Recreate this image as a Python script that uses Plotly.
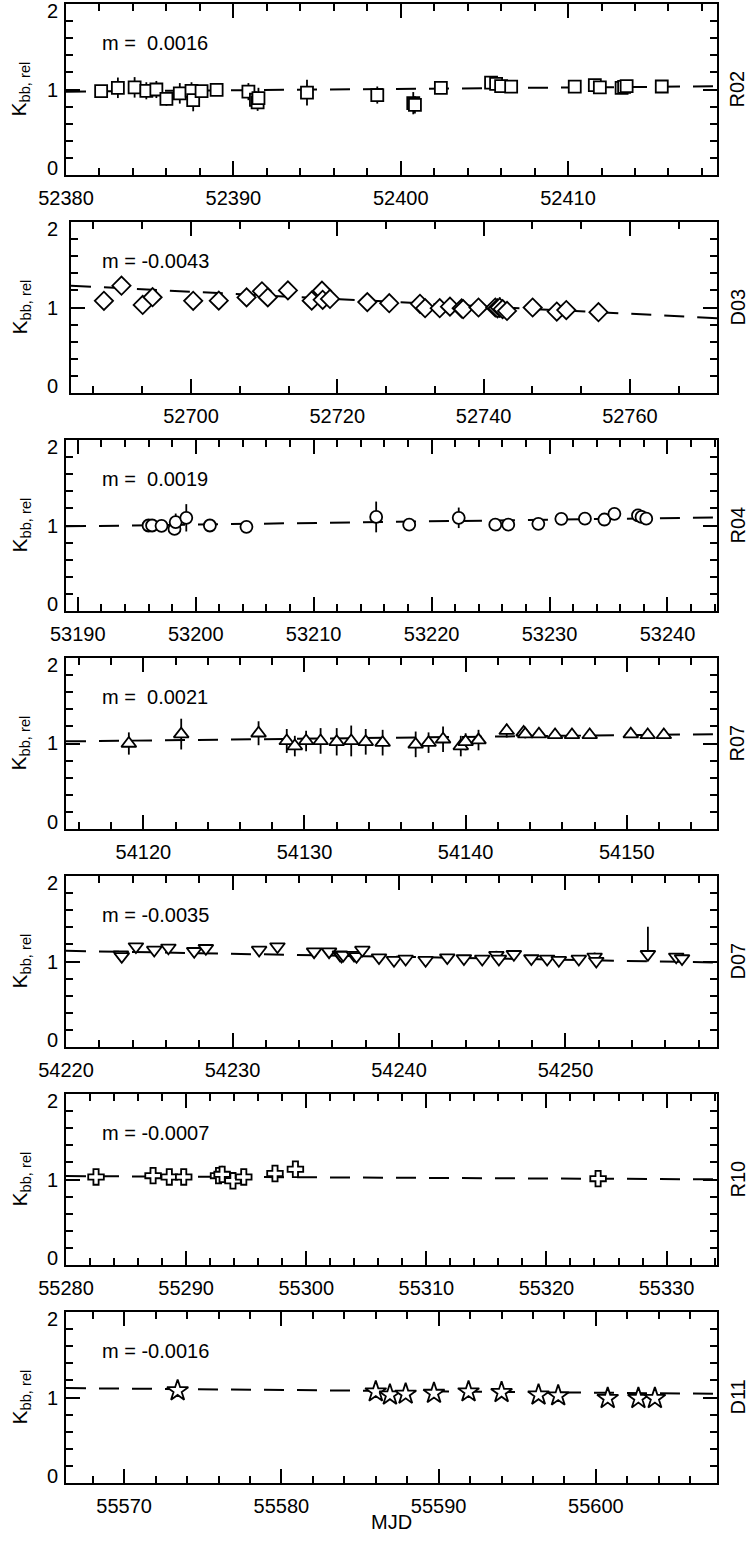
import plotly.graph_objects as go

W, H = 751, 1544
FONT = "Liberation Sans"

# ---- R02 ----
mjd_r02 = [52382.1, 52383.1, 52384.1, 52384.8, 52385.4, 52386.0, 52386.8, 52387.5, 52387.6,
           52388.1, 52389.0, 52390.9, 52391.35, 52391.45, 52391.5, 52394.4, 52398.6, 52400.75,
           52400.85, 52402.4, 52405.4, 52405.7, 52406.0, 52406.6, 52410.4, 52411.6, 52411.9,
           52413.2, 52413.35, 52413.5, 52415.6]
k_r02 = [0.98, 1.02, 1.025, 0.985, 1.0, 0.89, 0.955, 0.985, 0.875, 0.98, 0.995, 0.975, 0.88,
         0.85, 0.90, 0.963, 0.935, 0.84, 0.82, 1.02, 1.08, 1.065, 1.04, 1.033, 1.033, 1.05,
         1.025, 1.02, 1.03, 1.04, 1.035]
err_r02 = [0.06, 0.12, 0.12, 0.10, 0.10, 0.08, 0.12, 0.10, 0.13, 0.06, 0.05, 0.10, 0.10, 0.10,
           0.12, 0.15, 0.10, 0.13, 0.10, 0.05, 0.04, 0.04, 0.04, 0.04, 0.04, 0.05, 0.04, 0.04,
           0.04, 0.04, 0.04]

# ---- D03 ----
mjd_d03 = [52688.1, 52690.5, 52693.4, 52694.75, 52700.3, 52703.8, 52707.6, 52709.7, 52710.5,
           52713.25, 52716.5, 52717.9, 52718.0, 52719.0, 52724.1, 52727.1, 52731.3, 52732.0,
           52734.0, 52735.4, 52737.0, 52737.2, 52739.3, 52741.6, 52741.9, 52742.2, 52742.6,
           52743.2, 52746.7, 52750.0, 52751.3, 52755.7]
k_d03 = [1.078, 1.255, 1.03, 1.12, 1.078, 1.08, 1.118, 1.19, 1.118, 1.2, 1.08, 1.196, 1.09,
         1.1, 1.063, 1.05, 1.043, 0.992, 0.992, 1.01, 0.99, 0.98, 1.0, 1.0, 0.99, 1.0, 0.98,
         0.96, 1.0, 0.953, 0.97, 0.945]
err_d03 = [0.03, 0.03, 0.03, 0.03, 0.03, 0.03, 0.03, 0.03, 0.03, 0.03, 0.03, 0.03, 0.05,
           0.03, 0.03, 0.03, 0.03, 0.03, 0.03, 0.10, 0.03, 0.03, 0.03, 0.05, 0.06, 0.12, 0.05,
           0.03, 0.03, 0.03, 0.03, 0.03]

# ---- R04 ----
mjd_r04 = [53196.0, 53196.3, 53197.1, 53198.2, 53198.3, 53199.2, 53201.2, 53204.3, 53215.3,
           53218.1, 53222.3, 53225.4, 53226.5, 53229.05, 53231.0, 53233.0, 53234.65, 53235.5,
           53237.5, 53237.8, 53238.2]
k_r04 = [1.0, 1.0, 0.996, 0.96, 1.04, 1.09, 1.0, 0.984, 1.1, 1.01, 1.09, 1.01, 1.01, 1.02,
         1.078, 1.08, 1.07, 1.137, 1.118, 1.1, 1.08]
err_r04 = [0.03, 0.03, 0.03, 0.04, 0.10, 0.16, 0.03, 0.03, 0.18, 0.05, 0.12, 0.03, 0.03, 0.05,
           0.03, 0.03, 0.03, 0.03, 0.03, 0.03, 0.03]

# ---- R07 ----
mjd_r07 = [54119.1, 54122.35, 54127.15, 54128.9, 54129.4, 54130.1, 54131.0, 54132.0, 54132.9,
           54133.8, 54134.85, 54136.9, 54137.7, 54138.6, 54139.7, 54140.0, 54140.8, 54142.55,
           54143.6, 54143.7, 54144.55, 54145.55, 54146.6, 54147.7, 54150.25, 54151.3, 54152.3]
k_r07 = [1.0, 1.11, 1.12, 1.03, 0.97, 1.03, 1.03, 1.02, 1.03, 1.02, 1.01, 0.99, 1.01, 1.05,
         0.97, 1.02, 1.04, 1.15, 1.13, 1.11, 1.11, 1.1, 1.1, 1.1, 1.11, 1.1, 1.1]
err_r07 = [0.13, 0.18, 0.14, 0.14, 0.12, 0.12, 0.15, 0.16, 0.18, 0.15, 0.15, 0.15, 0.12, 0.15,
           0.12, 0.10, 0.12, 0.08, 0.05, 0.05, 0.04, 0.03, 0.03, 0.03, 0.03, 0.03, 0.03]

# ---- D07 ----
mjd_d07 = [54223.3, 54223.35, 54224.2, 54225.3, 54226.15, 54227.7, 54228.4, 54231.6, 54232.7,
           54234.9, 54235.8, 54236.45, 54236.55, 54236.65, 54237.3, 54237.45, 54237.8, 54238.8,
           54239.7, 54240.4, 54241.6, 54242.9, 54243.9, 54245.0, 54245.85, 54246.0, 54246.9,
           54247.95, 54248.9, 54249.6, 54250.8, 54251.75, 54251.85, 54254.95, 54256.65, 54257.0]
k_d07 = [1.08, 1.06, 1.175, 1.135, 1.16, 1.12, 1.155, 1.135, 1.175, 1.115, 1.115, 1.08, 1.065,
         1.075, 1.075, 1.06, 1.135, 1.045, 1.015, 1.03, 1.015, 1.045, 1.035, 1.03, 1.075, 1.03,
         1.085, 1.035, 1.03, 1.015, 1.03, 1.055, 1.005, 1.085, 1.055, 1.035]
errp_d07 = [0.03, 0.03, 0.03, 0.03, 0.03, 0.03, 0.03, 0.03, 0.03, 0.03, 0.03, 0.03, 0.03, 0.03,
            0.03, 0.03, 0.03, 0.03, 0.03, 0.03, 0.03, 0.03, 0.03, 0.03, 0.05, 0.03, 0.03, 0.03,
            0.03, 0.03, 0.03, 0.05, 0.03, 0.32, 0.03, 0.03]
errm_d07 = [0.03, 0.03, 0.03, 0.03, 0.03, 0.03, 0.03, 0.03, 0.03, 0.03, 0.03, 0.03, 0.03, 0.03,
            0.03, 0.03, 0.03, 0.03, 0.03, 0.03, 0.03, 0.03, 0.03, 0.03, 0.03, 0.03, 0.03, 0.03,
            0.03, 0.03, 0.03, 0.03, 0.03, 0.03, 0.03, 0.03]

# ---- R10 ----
mjd_r10 = [55282.5, 55287.25, 55288.6, 55289.8, 55292.7, 55293.0, 55293.9, 55294.8, 55297.4,
           55299.1, 55324.3]
k_r10 = [1.03, 1.045, 1.03, 1.03, 1.045, 1.06, 0.985, 1.03, 1.07, 1.12, 1.01]
err_r10 = [0.04, 0.06, 0.04, 0.04, 0.04, 0.10, 0.04, 0.05, 0.06, 0.05, 0.05]

# ---- D11 ----
mjd_d11 = [55573.4, 55586.0, 55586.9, 55587.9, 55589.7, 55591.9, 55594.0, 55596.35, 55597.6,
           55600.75, 55602.7, 55603.75]
k_d11 = [1.08, 1.067, 1.03, 1.04, 1.05, 1.067, 1.06, 1.03, 1.02, 0.99, 0.99, 0.99]
err_d11 = [0.03, 0.03, 0.03, 0.03, 0.03, 0.03, 0.03, 0.03, 0.03, 0.03, 0.03, 0.03]

# linear fit: slope per day and value at the left edge of each panel
slopes = [0.0016, -0.0043, 0.0019, 0.0021, -0.0035, -0.0007, -0.0016]
fit_start = [0.975, 1.255, 0.99, 1.025, 1.125, 1.04, 1.11]
names = ["R02", "D03", "R04", "R07", "D07", "R10", "D11"]

# y-axis labels: value and its small vertical nudge in pixels
y_labels = [0, 1, 2]
y_label_nudge = [7, 0, -7]

panels = [
    dict(x=mjd_r02, y=k_r02, ep=err_r02, em=err_r02, sym="square", size=12,
         xr=[52380, 52418.9], dt=10, t0=52380, mdt=2),
    dict(x=mjd_d03, y=k_d03, ep=err_d03, em=err_d03, sym="diamond", size=14,
         xr=[52683.6, 52771.9], dt=20, t0=52700, mdt=20 / 3),
    dict(x=mjd_r04, y=k_r04, ep=err_r04, em=err_r04, sym="circle", size=12,
         xr=[53189.0, 53244.2], dt=10, t0=53190, mdt=2),
    dict(x=mjd_r07, y=k_r07, ep=err_r07, em=err_r07, sym="triangle-up", size=13,
         xr=[54115.2, 54155.6], dt=10, t0=54120, mdt=2),
    dict(x=mjd_d07, y=k_d07, ep=errp_d07, em=errm_d07, sym="triangle-down", size=13,
         xr=[54220.0, 54259.1], dt=10, t0=54220, mdt=2),
    dict(x=mjd_r10, y=k_r10, ep=err_r10, em=err_r10, sym="cross", size=13,
         xr=[55280.0, 55334.2], dt=10, t0=55280, mdt=2),
    dict(x=mjd_d11, y=k_d11, ep=err_d11, em=err_d11, sym="star", size=16,
         xr=[55566.3, 55607.7], dt=10, t0=55570, mdt=2),
]

LEFT, RIGHT = 66, 717
PANEL_H, PITCH, TOP0 = 171, 218, 4

fig = go.Figure()
annotations = []

for i, p in enumerate(panels):
    n = "" if i == 0 else str(i + 1)
    xa, ya = "x" + n, "y" + n
    top = TOP0 + PITCH * i
    left = 71 if i == 1 else LEFT
    xdom = [left / W, RIGHT / W]
    ydom = [1 - (top + PANEL_H) / H, 1 - top / H]

    x0, x1 = p["xr"]
    fig.add_trace(go.Scatter(
        x=[x0, x1], y=[fit_start[i], fit_start[i] + slopes[i] * (x1 - x0)],
        mode="lines", line=dict(color="black", width=2, dash="20px,13px"),
        xaxis=xa, yaxis=ya, showlegend=False, hoverinfo="skip"))
    fig.add_trace(go.Scatter(
        x=p["x"], y=p["y"], mode="markers",
        marker=dict(symbol=p["sym"], size=p["size"], color="white",
                    line=dict(color="black", width=1.8)),
        error_y=dict(type="data", array=p["ep"], arrayminus=p["em"], symmetric=False,
                     color="black", thickness=1.8, width=0),
        xaxis=xa, yaxis=ya, showlegend=False))

    axis_common = dict(showline=True, linecolor="black", linewidth=2, mirror="ticks",
                       ticks="inside", tickcolor="black", tickwidth=1.6, ticklen=14,
                       showgrid=False, zeroline=False, automargin=False,
                       tickfont=dict(family=FONT, size=20, color="black"))
    fig.update_layout(**{
        ("xaxis" + n): dict(axis_common, domain=xdom, anchor=ya, range=p["xr"],
                            tick0=p["t0"], dtick=p["dt"], tickformat="d",
                            ticklabelstandoff=4, ticklabeloverflow="allow",
                            minor=dict(ticks="inside", ticklen=7, tickwidth=1.6,
                                       tickcolor="black", dtick=p["mdt"], tick0=p["t0"])),
        ("yaxis" + n): dict(axis_common, domain=ydom, anchor=xa, range=[0, 2],
                            tick0=0, dtick=1, showticklabels=False,
                            minor=dict(ticks="inside", ticklen=7, tickwidth=1.6,
                                       tickcolor="black", dtick=0.2, tick0=0)),
    })

    for v, dy in zip(y_labels, y_label_nudge):
        annotations.append(dict(
            text=str(v), xref="paper", yref=ya, x=60 / W, y=v, yshift=dy,
            xanchor="right", yanchor="middle", showarrow=False,
            font=dict(family=FONT, size=20, color="black")))

    ymid = 1 - (top + PANEL_H / 2) / H
    sign = "-" if slopes[i] < 0 else "\u00a0"
    annotations.append(dict(
        text=f"m = {sign}{abs(slopes[i]):.4f}", xref="x" + n + " domain", yref=ya,
        x=(100 - left) / (RIGHT - left), y=1.54, xanchor="left", yanchor="middle",
        showarrow=False, font=dict(family=FONT, size=20, color="black")))
    annotations.append(dict(
        text="K<sub>bb, rel</sub>", xref="paper", yref="paper", x=20 / W, y=ymid,
        textangle=-90, xanchor="center", yanchor="middle", showarrow=False,
        font=dict(family=FONT, size=21, color="black")))
    annotations.append(dict(
        text=names[i], xref="paper", yref="paper", x=737 / W, y=ymid,
        textangle=-90, xanchor="center", yanchor="middle", showarrow=False,
        font=dict(family=FONT, size=20, color="black")))

annotations.append(dict(
    text="MJD", xref="paper", yref="paper", x=(LEFT + RIGHT) / 2 / W, y=1 - 1522 / H,
    xanchor="center", yanchor="middle", showarrow=False,
    font=dict(family=FONT, size=20, color="black")))

fig.update_layout(width=W, height=H, margin=dict(l=0, r=0, t=0, b=0, autoexpand=False),
                  paper_bgcolor="white", plot_bgcolor="white",
                  annotations=annotations, showlegend=False)
fig.write_html("out.html")
